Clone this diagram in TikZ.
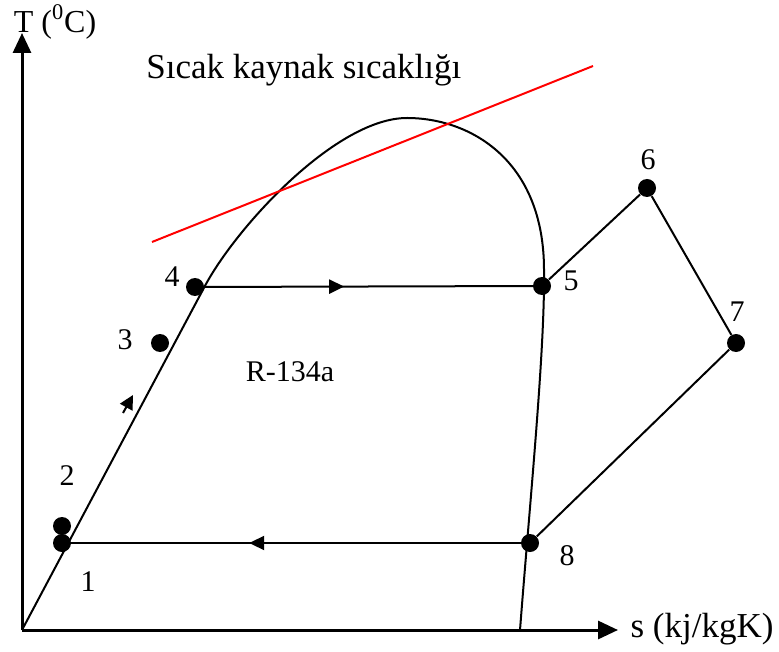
\documentclass[tikz,border=0pt]{standalone}
\usepackage{fontspec}
\setmainfont{Liberation Serif}
\usetikzlibrary{arrows.meta, positioning, decorations.markings}

\tikzset{
  dot/.style={circle, fill=black, inner sep=0pt, minimum size=9pt},
  lbl/.style={font=\fontsize{15}{17}\selectfont, inner sep=1pt},
  biglbl/.style={font=\fontsize{17.5}{20}\selectfont, inner sep=1pt},
  axis/.style={line width=1.5pt, -{Triangle[length=10pt, width=9pt]}},
  cycleline/.style={line width=1pt},
  midarrow/.style={postaction={decorate, decoration={markings,
      mark=at position #1 with {\arrow{Triangle[length=7.5pt, width=7pt]}}}}}
}

\begin{document}
\begin{tikzpicture}[x=0.5pt, y=-0.5pt]
\useasboundingbox (0,0) rectangle (779,651);

% Axes
\coordinate (O) at (22,630);
\coordinate (Ttip) at (22,33);
\coordinate (stip) at (618,630);
\draw[axis] (O) -- (Ttip);
\draw[axis] (O) -- (stip);
\node[lbl, font=\fontsize{16}{18}\selectfont] (Tlabel) at (55,22) {T (\textsuperscript{0}C)};
\node[biglbl] (slabel) at (702,629) {s (kj/kgK)};

% Saturation dome
\draw[cycleline] (O) -- (206,284)
  .. controls (239,224) and (337,118) .. (407,118)
  .. controls (470,118) and (544,160) .. (544,270)
  .. controls (545,350) and (530,500) .. (520,630);

% Heat source temperature
\coordinate (r1) at (152,242);
\coordinate (r2) at (593,66);
\draw[red, line width=1pt] (r1) -- (r2);
\node[biglbl, anchor=west] (source) at (144,70) {Sıcak kaynak sıcaklığı};
\node[lbl] (fluid) at (290,372) {R-134a};

% State points
\node[dot] (p1) at (62,543) {};
\node[dot] (p2) at (62,526) {};
\node[dot] (p3) at (160,343) {};
\node[dot] (p4) at (195,287) {};
\node[dot] (p5) at (542,286) {};
\node[dot] (p6) at (647,188) {};
\node[dot] (p7) at (736,343) {};
\node[dot] (p8) at (530,543) {};

\node[lbl] (l1) at (88,582) {1};
\node[lbl] (l2) at (67,476) {2};
\node[lbl] (l3) at (125,340) {3};
\node[lbl] (l4) at (172,277) {4};
\node[lbl] (l5) at (571,281) {5};
\node[lbl] (l6) at (648,160) {6};
\node[lbl] (l7) at (737,312) {7};
\node[lbl] (l8) at (567,556) {8};

% Cycle
\draw[cycleline, midarrow=0.43] (p4.center) -- (p5.center);
\draw[cycleline] (p5) -- (p6) -- (p7) -- (p8);
\draw[cycleline, midarrow=0.6] (p8.center) -- (p1.center);

% Pump direction
\coordinate (pa) at (123,413);
\coordinate (pb) at (133,395);
\draw[cycleline, -{Triangle[length=7pt, width=7pt]}] (pa) -- (pb);
\end{tikzpicture}
\end{document}
